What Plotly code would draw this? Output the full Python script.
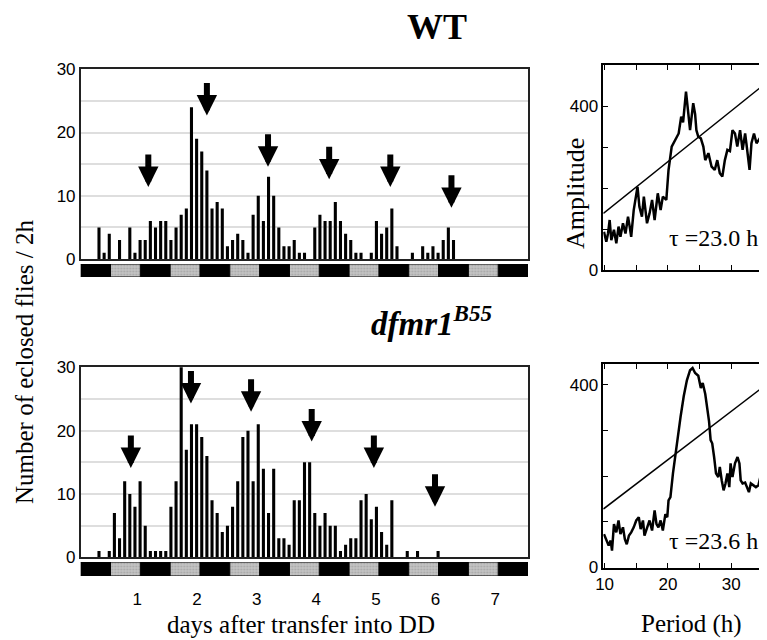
import plotly.graph_objects as go

W, H = 767, 640
OFF = 8  # page body margin, positions below are in page pixels

# eclosion counts per 2 h bin (bin index 0..86)
wt_counts = [0, 0, 0, 5, 1, 4, 0, 3, 0, 5, 1, 3, 3, 6, 5, 6, 6, 3, 5, 7,
             8, 24, 19, 17, 14, 8, 9, 8, 2, 3, 4, 3, 1, 7, 10, 6, 13, 10, 5, 2,
             2, 3, 1, 1, 0, 5, 7, 6, 6, 9, 6, 4, 3, 1, 1, 0, 1, 6, 4, 5,
             8, 2, 0, 0, 1, 0, 2, 1, 2, 1, 3, 5, 3, 0, 0, 0, 0, 0, 0, 0,
             0, 0, 0, 0, 0, 0, 0]
mut_counts = [0, 0, 0, 1, 0, 1, 7, 3, 12, 10, 8, 12, 5, 1, 1, 1, 1, 8, 12, 31,
              17, 21, 21, 19, 16, 9, 7, 4, 5, 8, 12, 19, 20, 12, 21, 14, 7, 14, 3, 3,
              2, 9, 9, 15, 15, 7, 5, 7, 5, 5, 1, 2, 3, 3, 9, 10, 6, 8, 4, 2,
              9, 0, 0, 1, 0, 1, 0, 0, 0, 1, 0, 0, 0, 0, 0, 0, 0, 0, 0, 0,
              0, 0, 0, 0, 0, 0, 0]
bins = list(range(len(wt_counts)))

# arrows (bin position, tip height)
wt_arrow_bin = [12.6, 24.0, 35.9, 47.8, 59.7, 71.6]
wt_arrow_tip = [11.4, 22.7, 14.6, 12.6, 11.4, 8.1]
mut_arrow_bin = [9.2, 20.9, 32.6, 44.4, 56.5, 68.4]
mut_arrow_tip = [14.1, 24.3, 23.0, 18.3, 14.1, 8.0]

# light/dark strip, 12 h segments (1 = dark, 0 = subjective day)
ld_dark = [1, 0, 1, 0, 1, 0, 1, 0, 1, 0, 1, 0, 1, 0, 1]
days = [1, 2, 3, 4, 5, 6, 7]

# periodograms
wt_period = [9.9, 10.27, 10.54, 10.8, 11.06, 11.48, 11.85, 12.2, 12.5, 12.9,
             13.3, 13.7, 13.96, 14.2, 14.6, 15.2, 15.5, 15.9, 16.2, 16.7,
             17.1, 17.5, 17.9, 18.4, 18.85, 19.2, 19.75, 20.1, 20.6, 21.2,
             21.7, 22.1, 22.4, 22.86, 23.2, 23.5, 24.0, 24.3, 24.5, 24.8,
             25.2, 25.6, 25.9, 26.4, 26.9, 27.4, 27.8, 28.2, 28.6, 29.0,
             29.4, 29.8, 30.2, 30.6, 30.96, 31.4, 31.8, 32.2, 32.4, 32.9,
             33.2, 33.6, 34.0, 34.5, 35.1, 35.66]
wt_amp = [93, 69, 89, 122, 73, 98, 65, 106, 81, 114,
          89, 130, 106, 81, 146, 203, 154, 130, 179, 114,
          138, 171, 122, 187, 146, 179, 171, 244, 301, 317,
          333, 374, 360, 435, 374, 341, 407, 380, 341, 325,
          321, 301, 268, 285, 252, 244, 268, 236, 228, 268,
          293, 290, 341, 333, 301, 341, 293, 333, 309, 244,
          309, 333, 309, 321, 325, 329]
wt_sig_x = [9.8, 35.66]
wt_sig_y = [138, 458]

mut_period = [9.9, 10.27, 10.64, 10.96, 11.17, 11.48, 11.85, 12.2, 12.5, 12.9,
              13.2, 13.5, 13.85, 14.2, 14.6, 15.0, 15.4, 15.7, 16.06, 16.3,
              16.7, 17.1, 17.5, 17.9, 18.2, 18.5, 18.85, 19.2, 19.6, 19.9,
              20.1, 20.4, 20.8, 21.2, 21.6, 22.0, 22.5, 23.0, 23.5, 23.9,
              24.3, 24.8, 25.2, 25.5, 25.9, 26.1, 26.5, 26.75, 27.0, 27.3,
              27.6, 27.96, 28.2, 28.5, 28.8, 29.1, 29.4, 29.7, 29.9, 30.2,
              30.6, 31.0, 31.3, 31.5, 31.8, 32.2, 32.4, 32.8, 33.1, 33.5,
              33.9, 34.3, 34.6, 35.0, 35.3, 35.66]
mut_amp = [73, 59, 48, 59, 37, 95, 77, 103, 73, 88,
           62, 51, 70, 77, 88, 103, 110, 84, 103, 70,
           88, 103, 81, 125, 95, 88, 103, 81, 117, 110,
           147, 154, 206, 250, 290, 330, 375, 410, 432, 437,
           426, 420, 393, 404, 380, 360, 320, 279, 272, 242,
           206, 198, 220, 191, 169, 184, 206, 176, 228, 198,
           228, 242, 228, 191, 184, 186, 180, 165, 184, 180,
           176, 180, 198, 250, 279, 294]
mut_sig_x = [9.8, 35.66]
mut_sig_y = [128, 402]

tau_text = ["τ =23.0 h", "τ =23.6 h"]


def px_x(a, b):
    return [max(0, (a - OFF) / W), min(1, (b - OFF) / W)]


def px_y(top, bottom):
    return [max(0, 1 - (bottom - OFF) / H), min(1, 1 - (top - OFF) / H)]


SERIF = "Liberation Serif, Times New Roman, serif"
SANS = "Liberation Sans, Arial, sans-serif"
TICKFONT = dict(family=SANS, size=17, color="black")

# periodogram x scale: 10 h at page x 604.6, 6.33 px per hour
per_left, per_right = 603.3, W + OFF
per_range = [10 + (per_left - 604.6) / 6.33, 10 + (per_right - 604.6) / 6.33]

fig = go.Figure()

# bar charts
for counts, xa, ya in [(wt_counts, "x", "y"), (mut_counts, "x3", "y3")]:
    fig.add_trace(go.Bar(x=bins, y=counts, width=0.6, marker_color="black",
                         marker_line_width=0, xaxis=xa, yaxis=ya, showlegend=False))

# LD strips
ld_x = [0.25 + 0.5 * i for i in range(len(ld_dark))]
for xa, ya in [("x2", "y2"), ("x4", "y4")]:
    fig.add_trace(go.Bar(x=[x for x, d in zip(ld_x, ld_dark) if d],
                         y=[1] * sum(ld_dark), width=0.5, marker_color="black",
                         marker_line=dict(color="black", width=1),
                         xaxis=xa, yaxis=ya, showlegend=False))
    fig.add_trace(go.Bar(x=[x for x, d in zip(ld_x, ld_dark) if not d],
                         y=[1] * (len(ld_dark) - sum(ld_dark)), width=0.5,
                         marker=dict(color="#c4c4c4", line=dict(color="black", width=1),
                                     pattern=dict(shape=".", size=3, solidity=0.35,
                                                  fgcolor="#8a8a8a", fillmode="overlay")),
                         xaxis=xa, yaxis=ya, showlegend=False))

# periodograms
for per, amp, sx, sy, xa, ya in [(wt_period, wt_amp, wt_sig_x, wt_sig_y, "x5", "y5"),
                                 (mut_period, mut_amp, mut_sig_x, mut_sig_y, "x6", "y6")]:
    fig.add_trace(go.Scatter(x=sx, y=sy, mode="lines", line=dict(color="black", width=1.5),
                             xaxis=xa, yaxis=ya, showlegend=False))
    fig.add_trace(go.Scatter(x=per, y=amp, mode="lines", line=dict(color="black", width=2.5),
                             xaxis=xa, yaxis=ya, showlegend=False))

bar_x = dict(range=[-0.56, 86.5], showticklabels=False, ticks="", showgrid=False,
             showline=True, linecolor="#222", linewidth=1.5, mirror=True, zeroline=False,
             automargin=False)
bar_y = dict(range=[0, 30], tickvals=[0, 5, 10, 15, 20, 25, 30],
             ticktext=["0", "", "10", "", "20", "", "30"], ticks="",
             showgrid=True, gridcolor="#dedede", gridwidth=1.5, zeroline=False,
             showline=True, linecolor="#222", linewidth=1.5, mirror=True,
             tickfont=TICKFONT, automargin=False)
ld_xax = dict(range=[0, 7.5], showgrid=False, zeroline=False, showline=False, ticks="",
              automargin=False)
ld_yax = dict(range=[0, 1], showgrid=False, zeroline=False, showticklabels=False, ticks="",
              automargin=False)

per_x = dict(range=per_range, tickvals=[10, 15, 20, 25, 30, 35],
             ticktext=["10", "", "20", "", "30", ""], ticks="inside", ticklen=5,
             tickcolor="black", showgrid=False, zeroline=False, showline=True,
             linecolor="black", linewidth=1.5, mirror="ticks",
             tickfont=TICKFONT, automargin=False)
per_y = dict(tickvals=[0, 100, 200, 300, 400], ticktext=["0", "", "", "", "400"],
             ticks="inside", ticklen=5, tickcolor="black", showgrid=False, zeroline=False,
             showline=True, linecolor="black", linewidth=1.5, mirror=False,
             tickfont=TICKFONT, automargin=False)

fig.update_layout(
    width=W, height=H, margin=dict(l=0, r=0, t=0, b=0, pad=0),
    paper_bgcolor="white", plot_bgcolor="white", barmode="overlay",
    xaxis=dict(bar_x, domain=px_x(80.7, 528), anchor="y"),
    yaxis=dict(bar_y, domain=px_y(69.3, 259), anchor="x"),
    xaxis2=dict(ld_xax, domain=px_x(80.7, 528), anchor="y2", showticklabels=False),
    yaxis2=dict(ld_yax, domain=px_y(264, 277), anchor="x2"),
    xaxis3=dict(bar_x, domain=px_x(80.7, 528), anchor="y3"),
    yaxis3=dict(bar_y, domain=px_y(367.3, 557.3), anchor="x3"),
    xaxis4=dict(ld_xax, domain=px_x(80.7, 528), anchor="y4", tickvals=days,
                ticklabelshift=-3, ticklabelstandoff=11, tickfont=TICKFONT),
    yaxis4=dict(ld_yax, domain=px_y(562, 576), anchor="x4"),
    xaxis5=dict(per_x, domain=px_x(per_left, per_right), anchor="y5", showticklabels=False),
    yaxis5=dict(per_y, range=[0, 500], domain=px_y(65, 270), anchor="x5"),
    xaxis6=dict(per_x, domain=px_x(per_left, per_right), anchor="y6"),
    yaxis6=dict(per_y, range=[0, 445], domain=px_y(364.3, 567.5), anchor="x6"),
)

# arrows
for xs, ys, xr, yr in [(wt_arrow_bin, wt_arrow_tip, "x", "y"),
                       (mut_arrow_bin, mut_arrow_tip, "x3", "y3")]:
    for xv, yv in zip(xs, ys):
        fig.add_annotation(x=xv, y=yv, xref=xr, yref=yr, text="", showarrow=True,
                           ax=0, ay=-34, arrowhead=2, arrowwidth=6, arrowsize=0.68,
                           arrowcolor="black")

# period labels
for txt, xr, yr, yv in [(tau_text[0], "x5", "y5", 78), (tau_text[1], "x6", "y6", 58)]:
    fig.add_annotation(x=19.9, y=yv, xref=xr, yref=yr, text=txt, showarrow=False,
                       xanchor="left", yanchor="middle",
                       font=dict(family=SERIF, size=24, color="black"))

texts = [
    ("<b>WT</b>", 437, 27, 0, 36),
    ("<b><i>dfmr1</i></b><sup><b><i>B55</i></b></sup>", 431, 321, 0, 33),
    ("Number of eclosed flies / 2h", 24, 362, -90, 25),
    ("days after transfer into DD", 301, 624, 0, 25),
    ("Period (h)", 691, 624, 0, 25),
    ("Amplitude", 575, 194, -90, 26),
]
for txt, x, y, ang, size in texts:
    fig.add_annotation(x=(x - OFF) / W, y=1 - (y - OFF) / H, xref="paper", yref="paper",
                       text=txt, showarrow=False, textangle=ang, xanchor="center",
                       yanchor="middle", font=dict(family=SERIF, size=size, color="black"))

fig.write_html("out.html")
